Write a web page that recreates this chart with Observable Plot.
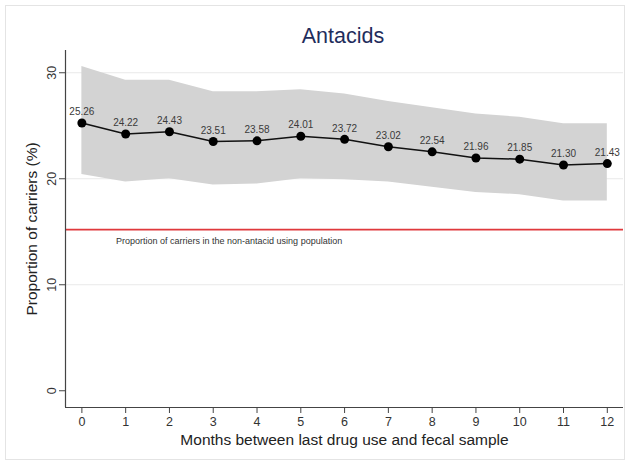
<!DOCTYPE html>
<html>
<head>
<meta charset="utf-8">
<script src="https://cdn.jsdelivr.net/npm/d3@7"></script>
<script src="https://cdn.jsdelivr.net/npm/@observablehq/plot@0.6"></script>
<style>
  html, body { margin: 0; padding: 0; background: #fff; }
  #wrap { position: relative; width: 632px; height: 465px; font-family: "Liberation Sans", Arial, sans-serif; }
  #frame { position: absolute; left: 5px; top: 5px; width: 620px; height: 455px; border: 1px solid #e4e4e4; box-sizing: border-box; pointer-events: none; }
  #title { position: absolute; left: 0; width: 686px; top: 24px; text-align: center; font-size: 21.5px; color: #1f2d5c; }
  #chart { position: absolute; left: 0; top: 0; }
</style>
</head>
<body>
<div id="wrap">
  <div id="frame"></div>
  <div id="chart"></div>
  <div id="title">Antacids</div>
</div>
<script>
const months = [0, 1, 2, 3, 4, 5, 6, 7, 8, 9, 10, 11, 12];
const proportion = [25.26, 24.22, 24.43, 23.51, 23.58, 24.01, 23.72, 23.02, 22.54, 21.96, 21.85, 21.30, 21.43];
const upperCI = [30.6, 29.3, 29.3, 28.2, 28.2, 28.4, 28.0, 27.3, 26.7, 26.1, 25.8, 25.2, 25.2];
const lowerCI = [20.4, 19.7, 20.0, 19.4, 19.5, 20.0, 19.9, 19.7, 19.2, 18.7, 18.5, 17.9, 17.9];
const referenceLevel = 15.2;
const referenceLabel = "Proportion of carriers in the non-antacid using population";
const xTicks = [0, 1, 2, 3, 4, 5, 6, 7, 8, 9, 10, 11, 12];
const yTicks = [0, 10, 20, 30];
const gridTicks = [10, 20, 30];
const xDomain = [-0.374, 12.37];
const yDomain = [-1.58, 32.1];

const data = months.map((m, i) => ({month: m, p: proportion[i], lo: lowerCI[i], hi: upperCI[i]}));

const font = "Liberation Sans, Arial, sans-serif";
const txt = "#333333";

const plot = Plot.plot({
  width: 632,
  height: 465,
  marginLeft: 65,
  marginRight: 9,
  marginTop: 50,
  marginBottom: 58,
  style: {fontFamily: font, background: "transparent", color: txt},
  x: {domain: xDomain},
  y: {domain: yDomain},
  marks: [
    Plot.gridY(gridTicks, {stroke: "#e9e9e9", strokeOpacity: 1, strokeWidth: 1}),
    Plot.areaY(data, {x: "month", y1: "lo", y2: "hi", fill: "#d3d3d3", fillOpacity: 1}),
    Plot.ruleY([referenceLevel], {stroke: "#e0393c", strokeWidth: 1.6}),
    Plot.text([referenceLabel], {x: 0.78, y: referenceLevel, text: d => d, dy: 11, textAnchor: "start", fontSize: 9, fill: txt}),
    Plot.lineY(data, {x: "month", y: "p", stroke: "#111", strokeWidth: 1.5}),
    Plot.dot(data, {x: "month", y: "p", r: 4.5, fill: "#000", stroke: "none"}),
    Plot.text(data, {x: "month", y: "p", text: d => d.p.toFixed(2), dy: -11, fontSize: 10, fill: "#3a3a3a"}),
    Plot.ruleX([xDomain[0]], {stroke: "#444", strokeWidth: 1.2}),
    Plot.ruleY([yDomain[0]], {stroke: "#444", strokeWidth: 1.2}),
    Plot.axisX(xTicks, {tickSize: 6, tickPadding: 4, fontSize: 12.5, stroke: "#444", color: txt, label: "Months between last drug use and fecal sample", labelAnchor: "center", labelArrow: "none", labelOffset: 37, tickFormat: d => String(d)}),
    Plot.axisY(yTicks, {tickSize: 6, tickPadding: 4, fontSize: 12.5, tickRotate: -90, stroke: "#444", color: txt, label: "Proportion of carriers (%)", labelAnchor: "center", labelOffset: 40, labelArrow: "none", tickFormat: d => String(d)})
  ]
});
document.getElementById("chart").appendChild(plot);

// Style axis titles
d3.select(plot).selectAll("[aria-label='x-axis label'] text, [aria-label='y-axis label'] text")
  .style("font-size", "15.5px").attr("fill", "#222");
</script>
</body>
</html>
